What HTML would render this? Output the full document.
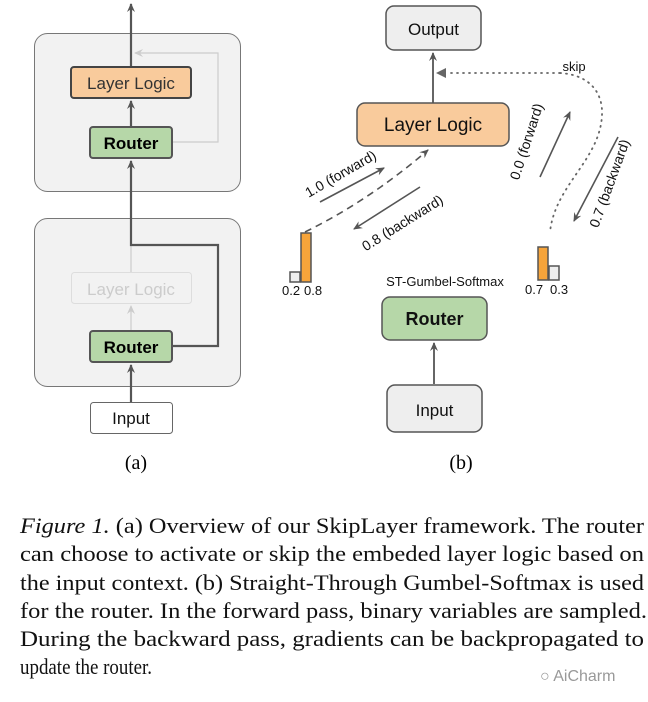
<!DOCTYPE html>
<html><head><meta charset="utf-8"><style>
html,body{margin:0;padding:0;background:#fff;}
svg{display:block;}
</style></head><body>
<svg width="648" height="702" viewBox="0 0 648 702" xmlns="http://www.w3.org/2000/svg" font-family="Liberation Sans, sans-serif">
<defs>
<marker id="ah" markerWidth="10" markerHeight="10" refX="8" refY="5" orient="auto" markerUnits="userSpaceOnUse"><path d="M0,1 L9,5 L0,9 L3,5 Z" fill="#555"/></marker>
<marker id="ahl" markerWidth="10" markerHeight="10" refX="8" refY="5" orient="auto" markerUnits="userSpaceOnUse"><path d="M0,1 L9,5 L0,9 L3,5 Z" fill="#ccc"/></marker>
</defs>
<!-- Panel (a) -->
<rect x="34.5" y="33.5" width="206" height="158" rx="13" fill="#f2f2f2" stroke="#777" stroke-width="1"/>
<rect x="34.5" y="218.5" width="206" height="168" rx="13" fill="#f2f2f2" stroke="#777" stroke-width="1"/>
<polyline points="172,142 218,142 218,53 135,53" fill="none" stroke="#ccc" stroke-width="1.2" marker-end="url(#ahl)"/>
<line x1="131" y1="272" x2="131" y2="245" stroke="#ccc" stroke-width="1.2"/>
<line x1="131" y1="331" x2="131" y2="306" stroke="#ccc" stroke-width="1.2" marker-end="url(#ahl)"/>
<polyline points="172,346 218,346 218,245 131,245 131,161" fill="none" stroke="#555" stroke-width="2.2" marker-end="url(#ah)"/>
<line x1="131" y1="127" x2="131" y2="101" stroke="#555" stroke-width="2.2" marker-end="url(#ah)"/>
<line x1="131" y1="67" x2="131" y2="4" stroke="#555" stroke-width="2.2" marker-end="url(#ah)"/>
<line x1="131" y1="402" x2="131" y2="365" stroke="#555" stroke-width="2.2" marker-end="url(#ah)"/>
<rect x="71" y="67" width="120" height="31" rx="3" fill="#f9cb9c" stroke="#444" stroke-width="2"/>
<text x="131" y="89" font-size="17" text-anchor="middle" fill="#333">Layer Logic</text>
<rect x="90" y="127" width="82" height="31" rx="3" fill="#b6d7a8" stroke="#555" stroke-width="2"/>
<text x="131" y="149" font-size="17" font-weight="bold" text-anchor="middle" fill="#000">Router</text>
<rect x="71.5" y="272.5" width="120" height="31" rx="3" fill="#f2f2f2" stroke="#ddd" stroke-width="1"/>
<text x="131" y="295" font-size="17" text-anchor="middle" fill="#ccc">Layer Logic</text>
<rect x="90" y="331" width="82" height="31" rx="3" fill="#b6d7a8" stroke="#555" stroke-width="2"/>
<text x="131" y="353" font-size="17" font-weight="bold" text-anchor="middle" fill="#000">Router</text>
<rect x="90.5" y="402.5" width="82" height="31" rx="3" fill="#fff" stroke="#666" stroke-width="1"/>
<text x="131" y="424" font-size="17" text-anchor="middle" fill="#111">Input</text>
<text x="136" y="469" font-size="20" text-anchor="middle" font-family="Liberation Serif, serif">(a)</text>

<!-- Panel (b) -->
<rect x="386" y="6" width="95" height="44" rx="8" fill="#eee" stroke="#555" stroke-width="1.5"/>
<text x="433.5" y="35" font-size="17" text-anchor="middle" fill="#111">Output</text>
<line x1="433" y1="103" x2="433" y2="53" stroke="#555" stroke-width="1.8" marker-end="url(#ah)"/>
<path d="M560,73 C592,75 603,95 602,115 C600,160 555,185 550,232" fill="none" stroke="#666" stroke-width="1.8" stroke-dasharray="1 5" stroke-linecap="round"/>
<line x1="560" y1="73" x2="446" y2="73" stroke="#666" stroke-width="1.8" stroke-dasharray="1 5" stroke-linecap="round"/>
<path d="M436,73 L446,68 L446,78 Z" fill="#666"/>
<text x="574" y="71" font-size="13" text-anchor="middle" fill="#111">skip</text>
<rect x="357" y="103" width="152" height="43" rx="8" fill="#f9cb9c" stroke="#555" stroke-width="1.5"/>
<text x="433" y="131" font-size="19" text-anchor="middle" fill="#111">Layer Logic</text>
<path d="M305,232 Q370,200 428,150" fill="none" stroke="#555" stroke-width="1.6" stroke-dasharray="7 5" marker-end="url(#ah)"/>
<line x1="320" y1="202" x2="384" y2="168" stroke="#555" stroke-width="1.6" marker-end="url(#ah)"/>
<line x1="420" y1="187" x2="354" y2="229" stroke="#555" stroke-width="1.6" marker-end="url(#ah)"/>
<text transform="translate(343,178) rotate(-30)" font-size="14" text-anchor="middle" fill="#111">1.0 (forward)</text>
<text transform="translate(405,227) rotate(-32)" font-size="14" text-anchor="middle" fill="#111">0.8 (backward)</text>
<line x1="540" y1="177" x2="570" y2="112" stroke="#555" stroke-width="1.6" marker-end="url(#ah)"/>
<line x1="618" y1="137" x2="574" y2="221" stroke="#555" stroke-width="1.6" marker-end="url(#ah)"/>
<text transform="translate(531,143) rotate(-72)" font-size="14" text-anchor="middle" fill="#111">0.0 (forward)</text>
<text transform="translate(614,185) rotate(-70)" font-size="14" text-anchor="middle" fill="#111">0.7 (backward)</text>
<rect x="290" y="272" width="10" height="10" fill="#eee" stroke="#555" stroke-width="1.5"/>
<rect x="301" y="233" width="10" height="49" fill="#f6a43a" stroke="#555" stroke-width="1.5"/>
<text x="282" y="295" font-size="13" fill="#111">0.2</text><text x="304" y="295" font-size="13" fill="#111">0.8</text>
<rect x="538" y="247" width="10" height="33" fill="#f6a43a" stroke="#555" stroke-width="1.5"/>
<rect x="549" y="266" width="10" height="14" fill="#eee" stroke="#555" stroke-width="1.5"/>
<text x="525" y="294" font-size="13" fill="#111">0.7</text><text x="550" y="294" font-size="13" fill="#111">0.3</text>
<text x="445" y="286" font-size="13" text-anchor="middle" fill="#111">ST-Gumbel-Softmax</text>
<rect x="382" y="297" width="105" height="43" rx="8" fill="#b6d7a8" stroke="#555" stroke-width="1.5"/>
<text x="434.5" y="325" font-size="18" font-weight="bold" text-anchor="middle" fill="#111">Router</text>
<line x1="434" y1="384" x2="434" y2="343" stroke="#555" stroke-width="1.8" marker-end="url(#ah)"/>
<rect x="387" y="385" width="95" height="47" rx="8" fill="#eee" stroke="#555" stroke-width="1.5"/>
<text x="434.5" y="416" font-size="17" text-anchor="middle" fill="#111">Input</text>
<text x="461" y="469" font-size="20" text-anchor="middle" font-family="Liberation Serif, serif">(b)</text>

<!-- Caption -->
<g font-family="Liberation Serif, serif" font-size="22" fill="#111">
<text x="20" y="533" textLength="624" lengthAdjust="spacingAndGlyphs"><tspan font-style="italic">Figure 1.</tspan> (a) Overview of our SkipLayer framework. The router</text>
<text x="20" y="561" textLength="624" lengthAdjust="spacingAndGlyphs">can choose to activate or skip the embeded layer logic based on</text>
<text x="20" y="590" textLength="624" lengthAdjust="spacingAndGlyphs">the input context. (b) Straight-Through Gumbel-Softmax is used</text>
<text x="20" y="618" textLength="627" lengthAdjust="spacingAndGlyphs">for the router. In the forward pass, binary variables are sampled.</text>
<text x="20" y="646" textLength="624" lengthAdjust="spacingAndGlyphs">During the backward pass, gradients can be backpropagated to</text>
<text x="20" y="674" textLength="132" lengthAdjust="spacingAndGlyphs">update the router.</text>
</g>
<text x="540" y="681" font-size="16" fill="#999">○ AiCharm</text>
</svg>
</body></html>
